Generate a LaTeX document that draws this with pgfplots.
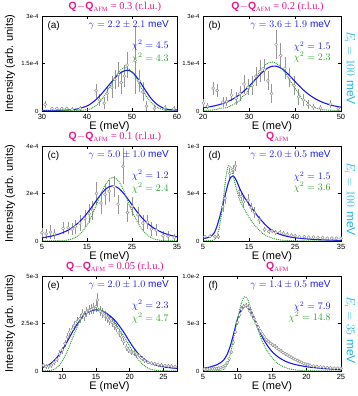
\documentclass[border=0pt]{standalone}
\usepackage{fontspec}
\setmainfont{Liberation Sans}
\newfontfamily\serif{Liberation Serif}
\usepackage{pgfplots}
\pgfplotsset{compat=1.18}
\definecolor{tmag}{RGB}{232,24,136}
\definecolor{fitblue}{RGB}{25,25,235}
\definecolor{fitgreen}{RGB}{40,160,40}
\definecolor{eicyan}{RGB}{30,180,230}
\definecolor{dgray}{RGB}{150,150,150}
\newcommand{\qt}[1]{{\bfseries Q}$-${\bfseries Q}\textsubscript{\serif\fontsize{6.5}{6.5}\selectfont AFM}{\serif\ = #1 (r.l.u.)}}
\newcommand{\qa}{{\bfseries Q}\textsubscript{\serif\fontsize{6.5}{6.5}\selectfont AFM}}
\tikzset{lab/.style={font=\fontsize{10}{10}\selectfont}}
\pgfplotsset{
  panel/.style={scale only axis, height=95pt, tick align=inside, major tick length=3pt,
    /pgf/number format/assume math mode=true,
    xticklabel style={font=\fontsize{7.5}{8}\selectfont},
    yticklabel style={font=\fontsize{6}{6}\selectfont},
    xlabel={E (meV)},
    xlabel style={font=\fontsize{11}{12}\selectfont, at={(rel axis cs:0.5,0)}, anchor=center, yshift=-16pt},
    every axis title/.style={font=\fontsize{10.5}{12}\selectfont, text=tmag, at={(rel axis cs:0.54,1)}, anchor=center, yshift=9pt},
    axis line style={line width=0.6pt}, every tick/.style={black, line width=0.5pt},
    clip=true},
  dat/.style={only marks, mark=*, mark size=1.5pt, color=dgray,
    mark options={fill=white, draw=dgray, line width=0.5pt},
    error bars/.cd, y dir=both, y explicit, error mark=none,
    error bar style={line width=0.5pt, dgray}},
  bfit/.style={fitblue, line width=1.1pt, smooth, no marks},
  gfit/.style={fitgreen, line width=1.3pt, smooth, no marks, line cap=round, dash pattern=on 0pt off 1.9pt},
}
\begin{document}
\begin{tikzpicture}[x=1pt,y=1pt]
\useasboundingbox (0pt,0pt) rectangle (357pt,396pt);
% (a)
\begin{axis}[panel, at={(42pt,285pt)}, anchor=south west, width=135pt,
  xmin=30, xmax=60, ymin=0, ymax=3, xtick={30,40,50,60}, ytick={0,1.5,3},
  yticklabels={0,1.5e-4,3e-4}, title={\qt{0.3}}]
\addplot[dat] table[x index=0, y index=1, y error index=2] {
30.7 0.20 0.12
32.2 0.07 0.06
33.3 0.08 0.06
34.4 0.07 0.06
35.5 0.08 0.06
36.7 0.05 0.07
38.5 0.08 0.08
42.0 0.64 0.22
42.8 0.35 0.20
43.8 0.25 0.20
44.5 0.55 0.25
45.5 0.75 0.35
46.2 1.00 0.30
47.0 1.15 0.40
47.6 0.90 0.35
48.3 1.10 0.35
48.9 1.45 0.40
50.7 1.60 1.05
51.6 0.95 0.35
52.4 0.60 0.30
53.2 0.15 0.15
55.0 0.08 0.10
57.3 0.10 0.10
59.3 0.07 0.08
};
\addplot[bfit] coordinates {(30,0.02)(32,0.02)(34,0.023)(36,0.033)(38,0.068)(40,0.16)(41,0.245)(42,0.36)(43,0.50)(44,0.67)(45,0.84)(46,1.01)(47,1.16)(48,1.25)(49,1.29)(50,1.23)(51,1.08)(52,0.87)(53,0.65)(54,0.44)(55,0.28)(56,0.165)(57,0.09)(58,0.05)(59,0.035)(60,0.03)};
\addplot[gfit] coordinates {(30,0.005)(34,0.008)(38,0.015)(40,0.04)(41,0.088)(42,0.174)(43,0.313)(44,0.51)(45,0.753)(46,1.01)(47,1.227)(48,1.353)(48.5,1.37)(49,1.353)(50,1.227)(51,1.01)(52,0.753)(53,0.51)(54,0.313)(55,0.174)(56,0.088)(57,0.04)(58,0.016)(60,0.005)};
\node[lab, anchor=north west] at (rel axis cs:0.015,0.985) {(a)};
\node[lab, anchor=north east, text=fitblue] at (rel axis cs:0.965,0.985) {$\gamma = 2.2 \pm 2.1$ meV};
\node[lab, anchor=east, text=fitblue] at (rel axis cs:0.965,0.695) {$\chi^2 = 4.5$};
\node[lab, anchor=east, text=fitgreen] at (rel axis cs:0.965,0.555) {$\chi^2 = 4.3$};
\end{axis}
% (b)
\begin{axis}[panel, at={(203pt,285pt)}, anchor=south west, width=138pt,
  xmin=20, xmax=50, ymin=0, ymax=3, xtick={20,30,40,50}, ytick={0,1.5,3},
  yticklabels={0,1.5e-4,3e-4}, title={\qt{0.2}}]
\addplot[dat] table[x index=0, y index=1, y error index=2] {
20.1 0.25 0.12
21.0 0.15 0.10
22.2 0.72 0.20
23.1 0.65 0.20
24.3 0.28 0.15
25.1 0.30 0.15
26.2 0.50 0.20
27.2 0.40 0.20
28.0 0.55 0.25
28.9 0.85 0.30
29.8 0.75 0.25
30.7 0.80 0.30
31.5 1.10 0.30
32.4 1.25 0.35
33.4 1.30 0.35
34.1 0.95 0.30
34.9 0.55 0.30
35.9 2.10 0.45
36.9 1.75 0.40
37.8 1.35 0.35
38.8 1.05 0.30
39.8 0.80 0.30
40.8 0.45 0.25
41.8 0.35 0.20
42.8 0.20 0.15
44.0 0.12 0.10
45.5 0.10 0.10
47.7 0.22 0.12
49.4 0.08 0.07
};
\addplot[bfit] coordinates {(20,0.0995)(21,0.121)(22,0.147)(23,0.180)(24,0.222)(25,0.274)(26,0.340)(27,0.422)(28,0.522)(29,0.641)(30,0.779)(31,0.932)(32,1.090)(33,1.235)(34,1.349)(35,1.412)(36,1.412)(37,1.349)(38,1.235)(39,1.090)(40,0.932)(41,0.779)(42,0.641)(43,0.522)(44,0.422)(45,0.340)(46,0.274)(47,0.222)(48,0.180)(49,0.147)(50,0.121)};
\addplot[gfit] coordinates {(20,0.02)(22,0.03)(23,0.05)(24,0.09)(25,0.10)(26,0.16)(27,0.24)(28,0.33)(28.5,0.45)(29,0.50)(29.5,0.55)(30,0.70)(31,0.94)(32,1.17)(33,1.37)(34,1.50)(35,1.55)(36,1.50)(37,1.37)(38,1.17)(39,0.94)(40,0.72)(41,0.52)(41.5,0.38)(42,0.36)(42.5,0.30)(43,0.21)(44,0.13)(45,0.07)(46,0.04)(48,0.02)(50,0.01)};
\node[lab, anchor=north west] at (rel axis cs:0.015,0.985) {(b)};
\node[lab, anchor=north east, text=fitblue] at (rel axis cs:0.95,0.985) {$\gamma = 3.6 \pm 1.9$ meV};
\node[lab, anchor=east, text=fitblue] at (rel axis cs:0.95,0.675) {$\chi^2 = 1.5$};
\node[lab, anchor=east, text=fitgreen] at (rel axis cs:0.95,0.565) {$\chi^2 = 2.3$};
\end{axis}
% (c)
\begin{axis}[panel, at={(42pt,155pt)}, anchor=south west, width=135pt,
  xmin=5, xmax=35, ymin=0, ymax=4, xtick={5,15,25,35}, ytick={0,2,4},
  yticklabels={0,2e-4,4e-4}, title={\qt{0.1}}]
\addplot[dat] table[x index=0, y index=1, y error index=2] {
5.0 0.35 0.20
5.9 0.30 0.20
6.9 0.38 0.28
7.8 0.30 0.20
9.7 0.53 0.25
10.8 0.55 0.25
11.7 0.50 0.25
12.4 0.60 0.30
13.4 0.75 0.35
14.5 0.95 0.35
15.5 1.15 0.40
16.2 1.30 0.40
17.1 2.00 0.50
18.1 1.60 0.45
19.0 1.95 0.45
19.9 2.10 0.45
21.0 2.29 0.45
21.9 1.55 0.40
23.0 3.15 0.75
24.0 1.20 0.40
25.0 1.45 0.40
26.3 1.10 0.35
27.4 0.75 0.35
28.4 0.80 0.30
29.3 0.50 0.30
30.4 0.45 0.25
31.9 0.22 0.20
33.0 0.20 0.20
34.4 0.15 0.15
};
\addplot[bfit] coordinates {(5,0.135)(6,0.165)(7,0.202)(8,0.249)(9,0.308)(10,0.384)(11,0.480)(12,0.601)(13,0.753)(14,0.939)(15,1.16)(16,1.414)(17,1.683)(18,1.943)(19,2.158)(20,2.291)(21,2.315)(22,2.223)(23,2.036)(24,1.789)(25,1.520)(26,1.258)(27,1.023)(28,0.823)(29,0.658)(30,0.525)(31,0.420)(32,0.336)(33,0.271)(34,0.219)(35,0.179)};
\addplot[gfit] coordinates {(5,0.005)(8,0.008)(10,0.022)(11,0.052)(12,0.111)(13,0.219)(14,0.40)(15,0.671)(16,1.039)(17,1.479)(18,1.941)(19,2.345)(20,2.61)(21,2.675)(22,2.525)(23,2.196)(24,1.70)(25,1.25)(26,0.881)(27,0.551)(28,0.318)(29,0.168)(30,0.082)(31,0.037)(32,0.015)(35,0.005)};
\node[lab, anchor=north west] at (rel axis cs:0.015,0.985) {(c)};
\node[lab, anchor=north east, text=fitblue] at (rel axis cs:0.965,0.985) {$\gamma = 5.0 \pm 1.0$ meV};
\node[lab, anchor=east, text=fitblue] at (rel axis cs:0.965,0.695) {$\chi^2 = 1.2$};
\node[lab, anchor=east, text=fitgreen] at (rel axis cs:0.965,0.555) {$\chi^2 = 2.4$};
\end{axis}
% (d)
\begin{axis}[panel, at={(203pt,155pt)}, anchor=south west, width=138pt,
  xmin=5, xmax=35, ymin=0, ymax=10, xtick={5,15,25,35}, ytick={0,5,10},
  yticklabels={0,5e-4,1e-3}, title={\qa}]
\addplot[dat] table[x index=0, y index=1, y error index=2] {
5.4 0.45 0.20
6.5 0.50 0.20
7.6 0.45 0.20
8.3 0.45 0.25
9.3 3.60 0.60
9.8 4.50 0.60
10.8 7.10 0.60
11.5 7.50 0.50
12.0 7.90 0.50
12.8 5.20 0.50
13.3 4.70 0.50
13.8 4.10 0.50
14.8 4.30 0.60
15.5 3.50 0.50
16.2 3.00 0.60
17.2 2.20 0.40
18.4 1.20 0.30
19.3 1.00 0.30
20.0 1.05 0.25
20.8 0.90 0.25
21.7 0.90 0.25
22.5 0.80 0.25
23.3 0.70 0.20
24.2 0.60 0.20
25.0 0.55 0.20
26.0 0.45 0.20
27.0 0.45 0.20
28.0 0.40 0.15
29.0 0.40 0.15
30.0 0.35 0.15
31.0 0.35 0.15
32.0 0.30 0.15
33.0 0.30 0.15
34.0 0.30 0.15
35.0 0.30 0.15
};
\addplot[bfit] coordinates {(5,0.25)(6,0.35)(7,0.6)(7.5,0.9)(8,1.5)(8.5,2.3)(9,3.2)(9.5,4.2)(10,5.2)(10.5,6.1)(11,6.7)(11.5,6.85)(12,6.6)(12.5,6.1)(13,5.5)(14,4.6)(15,3.9)(16,3.2)(17,2.55)(18,2.0)(19,1.5)(20,1.1)(21,0.85)(22,0.66)(23,0.52)(24,0.42)(25,0.34)(27,0.24)(30,0.14)(33,0.09)(35,0.06)};
\addplot[gfit] coordinates {(5,0.02)(7,0.05)(7.5,0.15)(8,0.5)(8.5,1.3)(9,2.8)(9.5,4.8)(10,6.8)(10.5,7.9)(11,7.8)(11.5,7.0)(12,6.0)(12.5,5.1)(13,4.3)(14,3.3)(15,2.5)(16,1.8)(17,1.25)(18,0.8)(19,0.5)(20,0.3)(21,0.18)(22,0.1)(24,0.04)(27,0.01)(35,0.0)};
\node[lab, anchor=north west] at (rel axis cs:0.015,0.985) {(d)};
\node[lab, anchor=north east, text=fitblue] at (rel axis cs:0.95,0.985) {$\gamma = 2.0 \pm 0.5$ meV};
\node[lab, anchor=east, text=fitblue] at (rel axis cs:0.95,0.675) {$\chi^2 = 1.5$};
\node[lab, anchor=east, text=fitgreen] at (rel axis cs:0.95,0.565) {$\chi^2 = 3.6$};
\end{axis}
% (e)
\begin{axis}[panel, at={(42pt,25pt)}, anchor=south west, width=135pt,
  xmin=7, xmax=27, ymin=0, ymax=5, xtick={10,15,20,25}, ytick={0,2.5,5},
  yticklabels={0,2.5e-3,5e-3}, title={\qt{0.05}}]
\addplot[dat] table[x index=0, y index=1, y error index=2] {
7.2 0.30 0.12
7.6 0.25 0.12
8.0 0.25 0.12
8.4 0.30 0.12
8.8 0.45 0.15
9.2 0.60 0.15
9.6 0.90 0.18
10.0 1.10 0.18
10.4 1.45 0.20
10.8 1.80 0.20
11.1 2.05 0.22
11.5 2.20 0.22
11.8 2.40 0.25
12.2 2.60 0.25
12.6 2.75 0.25
13.0 3.00 0.25
13.3 2.90 0.25
13.6 3.10 0.25
14.0 3.20 0.25
14.3 3.25 0.25
14.6 3.30 0.28
15.0 3.40 0.28
15.2 3.74 0.35
15.6 3.15 0.25
16.0 3.05 0.25
16.3 2.90 0.25
16.7 2.80 0.25
17.0 2.65 0.22
17.4 2.55 0.22
17.7 2.40 0.22
18.0 2.25 0.22
18.4 2.00 0.20
18.8 1.80 0.20
19.1 1.55 0.18
19.5 1.25 0.18
19.8 1.10 0.15
20.2 1.00 0.15
20.6 0.95 0.15
21.0 0.90 0.15
21.4 0.80 0.12
21.8 0.65 0.12
22.2 0.55 0.12
22.7 0.45 0.10
23.2 0.42 0.10
23.7 0.38 0.10
24.2 0.33 0.10
24.7 0.30 0.10
25.2 0.28 0.10
25.7 0.26 0.10
26.2 0.25 0.10
26.7 0.22 0.10
};
\addplot[bfit] coordinates {(7,0.18)(7.5,0.24)(8,0.32)(8.5,0.45)(9,0.62)(9.5,0.85)(10,1.1)(10.5,1.4)(11,1.72)(11.5,2.05)(12,2.35)(12.5,2.62)(13,2.85)(13.5,3.02)(14,3.13)(14.5,3.2)(15,3.22)(15.5,3.2)(16,3.14)(16.5,3.05)(17,2.92)(17.5,2.77)(18,2.58)(18.5,2.35)(19,2.1)(19.5,1.82)(20,1.53)(20.5,1.26)(21,1.02)(21.5,0.82)(22,0.66)(22.5,0.53)(23,0.43)(24,0.3)(25,0.22)(26,0.17)(27,0.13)};
\addplot[gfit] coordinates {(7,0.0)(8,0.02)(8.5,0.05)(9,0.12)(9.5,0.28)(10,0.52)(10.5,0.85)(11,1.25)(11.5,1.7)(12,2.15)(12.5,2.55)(13,2.88)(13.5,3.12)(14,3.27)(14.5,3.33)(15,3.33)(15.5,3.28)(16,3.18)(16.5,3.04)(17,2.87)(17.5,2.67)(18,2.44)(18.5,2.18)(19,1.9)(19.5,1.6)(20,1.3)(20.5,1.0)(21,0.73)(21.5,0.5)(22,0.32)(22.5,0.19)(23,0.1)(24,0.03)(25,0.01)(27,0.0)};
\node[lab, anchor=north west] at (rel axis cs:0.015,0.985) {(e)};
\node[lab, anchor=north east, text=fitblue] at (rel axis cs:0.965,0.985) {$\gamma = 2.0 \pm 1.0$ meV};
\node[lab, anchor=east, text=fitblue] at (rel axis cs:0.965,0.695) {$\chi^2 = 2.3$};
\node[lab, anchor=east, text=fitgreen] at (rel axis cs:0.965,0.555) {$\chi^2 = 4.7$};
\end{axis}
% (f)
\begin{axis}[panel, at={(203pt,25pt)}, anchor=south west, width=138pt,
  xmin=5, xmax=25, ymin=0, ymax=10, xtick={5,10,15,20,25}, ytick={0,5,10},
  yticklabels={0,5e-3,1.0e-2}, title={\qa}]
\addplot[dat] table[x index=0, y index=1, y error index=2] {
5.2 0.20 0.15
5.6 0.20 0.15
6.0 0.22 0.15
6.4 0.22 0.15
6.7 0.23 0.15
7.0 0.25 0.15
7.3 0.30 0.15
7.6 0.35 0.15
7.9 0.45 0.15
8.2 0.60 0.18
8.5 0.85 0.18
8.8 1.30 0.20
9.1 2.00 0.22
9.4 3.00 0.25
9.7 4.10 0.25
10.0 5.10 0.28
10.3 5.90 0.28
10.6 6.50 0.30
10.9 6.80 0.30
11.2 6.90 0.30
11.5 6.70 0.30
11.8 6.30 0.28
12.1 5.90 0.28
12.4 5.50 0.28
12.7 5.00 0.25
13.0 4.60 0.25
13.3 4.20 0.25
13.6 3.90 0.22
13.9 3.60 0.22
14.2 3.30 0.22
14.5 3.10 0.20
14.8 2.90 0.20
15.1 2.75 0.20
15.4 2.60 0.20
15.7 2.40 0.18
16.0 2.25 0.18
16.3 2.10 0.18
16.6 1.95 0.18
16.9 1.80 0.18
17.2 1.70 0.15
17.5 1.55 0.15
17.8 1.45 0.15
18.1 1.30 0.15
18.4 1.20 0.15
18.7 1.10 0.15
19.0 1.00 0.15
19.3 0.90 0.15
19.6 0.80 0.15
19.9 0.72 0.15
20.2 0.65 0.15
20.5 0.60 0.15
21.0 0.52 0.15
21.5 0.48 0.15
22.0 0.43 0.15
22.5 0.40 0.15
23.0 0.37 0.15
23.5 0.33 0.15
24.0 0.30 0.15
24.5 0.30 0.15
25.0 0.28 0.15
};
\addplot[bfit] coordinates {(5,0.28)(6,0.42)(7,0.65)(7.5,0.85)(8,1.16)(8.5,1.75)(9,2.74)(9.5,4.1)(10,5.5)(10.5,6.4)(11,6.77)(11.5,6.7)(12,6.1)(12.5,5.3)(13,4.5)(13.5,3.7)(14,3.05)(14.5,2.5)(15,2.05)(15.5,1.7)(16,1.42)(17,1.0)(18,0.75)(19,0.58)(20,0.45)(21,0.36)(22,0.29)(23,0.23)(24,0.18)(25,0.15)};
\addplot[gfit] coordinates {(5,0.0)(7,0.02)(7.5,0.05)(8,0.15)(8.5,0.7)(9,1.9)(9.5,3.7)(10,5.4)(10.5,7.0)(11,7.8)(11.5,7.5)(12,6.4)(12.5,5.3)(13,4.3)(13.5,3.3)(14,2.5)(14.5,1.9)(15,1.4)(15.5,1.0)(16,0.7)(17,0.35)(18,0.15)(19,0.07)(20,0.03)(22,0.01)(25,0.0)};
\node[lab, anchor=north west] at (rel axis cs:0.015,0.985) {(f)};
\node[lab, anchor=north east, text=fitblue] at (rel axis cs:0.95,0.985) {$\gamma = 1.4 \pm 0.5$ meV};
\node[lab, anchor=east, text=fitblue] at (rel axis cs:0.95,0.675) {$\chi^2 = 7.9$};
\node[lab, anchor=east, text=fitgreen] at (rel axis cs:0.95,0.565) {$\chi^2 = 14.8$};
\end{axis}
% side labels
\node[rotate=90, font=\fontsize{11}{11}\selectfont] at (10pt,332.5pt) {Intensity (arb. units)};
\node[rotate=90, font=\fontsize{11}{11}\selectfont] at (10pt,202.5pt) {Intensity (arb. units)};
\node[rotate=90, font=\fontsize{11}{11}\selectfont] at (10pt,72.5pt) {Intensity (arb. units)};
\node[rotate=-90, text=eicyan, font=\fontsize{12}{12}\selectfont] at (350pt,328pt) {$E_i = 100$ meV};
\node[rotate=-90, text=eicyan, font=\fontsize{12}{12}\selectfont] at (350pt,197pt) {$E_i = 100$ meV};
\node[rotate=-90, text=eicyan, font=\fontsize{12}{12}\selectfont] at (350pt,66pt) {$E_i = 35$ meV};
\end{tikzpicture}
\end{document}
